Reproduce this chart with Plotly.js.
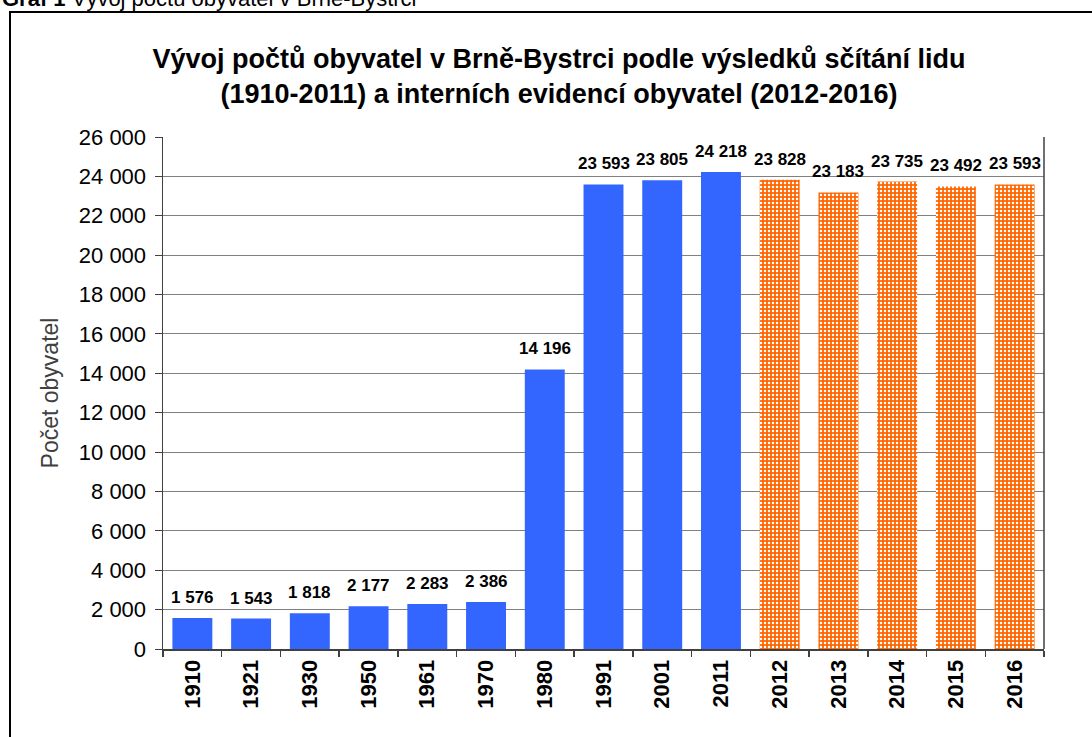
<!DOCTYPE html>
<html>
<head>
<meta charset="utf-8">
<script src="https://cdn.plot.ly/plotly-3.0.1.min.js"></script>
<style>html,body{margin:0;padding:0;background:#fff;}#chart{width:1092px;height:737px;}</style>
</head>
<body>
<div id="chart"></div>
<script>
const years = ["1910","1921","1930","1950","1961","1970","1980","1991","2001","2011","2012","2013","2014","2015","2016"];
const censusYears = ["1910","1921","1930","1950","1961","1970","1980","1991","2001","2011"];
const censusValues = [1576, 1543, 1818, 2177, 2283, 2386, 14196, 23593, 23805, 24218];
const evidenceYears = ["2012","2013","2014","2015","2016"];
const evidenceValues = [23828, 23183, 23735, 23492, 23593];
const yTicks = [0,2000,4000,6000,8000,10000,12000,14000,16000,18000,20000,22000,24000,26000];

const FONT = "Arial, 'Liberation Sans', sans-serif";
const L=163, R=48, T=137, B=88, W=1092, H=737;
const pw = W-L-R, ph = H-T-B;
const px = x => (x-L)/pw;
const py = y => (H-B-y)/ph;
const fmt = v => String(v).replace(/\B(?=(\d{3})+(?!\d))/g, ' ');

const traces = [
  {type:'bar', x:censusYears, y:censusValues, marker:{color:'#3366FF', line:{width:0}}, hoverinfo:'x+y'},
  {type:'bar', x:evidenceYears, y:evidenceValues,
   marker:{color:'#FF6600', pattern:{shape:'.', bgcolor:'#FF6600', fgcolor:'#FFFFFF', size:4, solidity:0.3}, line:{width:0}},
   hoverinfo:'x+y'}
];

const labelAnn = [];
censusYears.forEach((c,i)=>labelAnn.push({x:years.indexOf(c), y:censusValues[i]}));
evidenceYears.forEach((c,i)=>labelAnn.push({x:years.indexOf(c), y:evidenceValues[i]}));
const annotations = labelAnn.map(p => ({
  xref:'x', yref:'y', x:p.x, y:p.y, text:fmt(p.y), showarrow:false,
  xanchor:'center', yanchor:'bottom', yshift:9,
  font:{family:FONT, size:17, color:'#000', weight:'bold'}
}));
annotations.push({xref:'paper', yref:'paper', x:px(0), y:py(-2), xanchor:'left', yanchor:'middle', showarrow:false,
  text:'<b>Graf 1</b> Vývoj počtu obyvatel v Brně-Bystrci', font:{family:FONT, size:22, color:'#000'}});

const layout = {
  width:W, height:H,
  margin:{l:L, r:R, t:T, b:B, pad:0},
  paper_bgcolor:'#fff', plot_bgcolor:'#fff',
  separators:', ',
  showlegend:false,
  barmode:'overlay',
  bargap:0.32,
  font:{family:FONT, color:'#000'},
  title:{text:'Vývoj počtů obyvatel v Brně-Bystrci podle výsledků sčítání lidu<br>(1910-2011) a interních evidencí obyvatel (2012-2016)',
         font:{family:FONT, size:27, color:'#000', weight:'bold'}, x:559/W, xanchor:'center', xref:'container', yref:'container', y:1-68/H, yanchor:'top'},
  xaxis:{type:'category', categoryorder:'array', categoryarray:years, range:[-0.5, 14.5], autorange:false,
         tickangle:-90, tickfont:{family:FONT, size:22, color:'#000', weight:'bold'},
         ticks:'outside', tickson:'boundaries', ticklen:6, tickcolor:'#404040', tickwidth:1.5,
         showline:true, linecolor:'#404040', linewidth:2, mirror:false, showgrid:false},
  yaxis:{range:[0,26000], autorange:false, tickvals:yTicks, tickformat:',',
         tickfont:{family:FONT, size:22, color:'#000'},
         ticks:'outside', ticklen:7, tickcolor:'#404040', ticklabelstandoff:4,
         showline:true, linecolor:'#404040', linewidth:1.5, mirror:false,
         showgrid:true, gridcolor:'#808080', gridwidth:1, zeroline:false,
         title:{text:'Počet obyvatel', font:{family:FONT, size:23, color:'#404040'}, standoff:14}},
  shapes:[
    {type:'line', xref:'paper', yref:'paper', x0:1, x1:1, y0:0, y1:1, line:{color:'#404040', width:1.5}},
    {type:'rect', xref:'paper', yref:'paper', x0:px(10), x1:px(1110), y0:py(760), y1:py(12), line:{color:'#000', width:2}, fillcolor:'rgba(0,0,0,0)'}
  ],
  annotations:annotations
};

Plotly.newPlot('chart', traces, layout, {displayModeBar:false, staticPlot:true});
</script>
</body>
</html>
